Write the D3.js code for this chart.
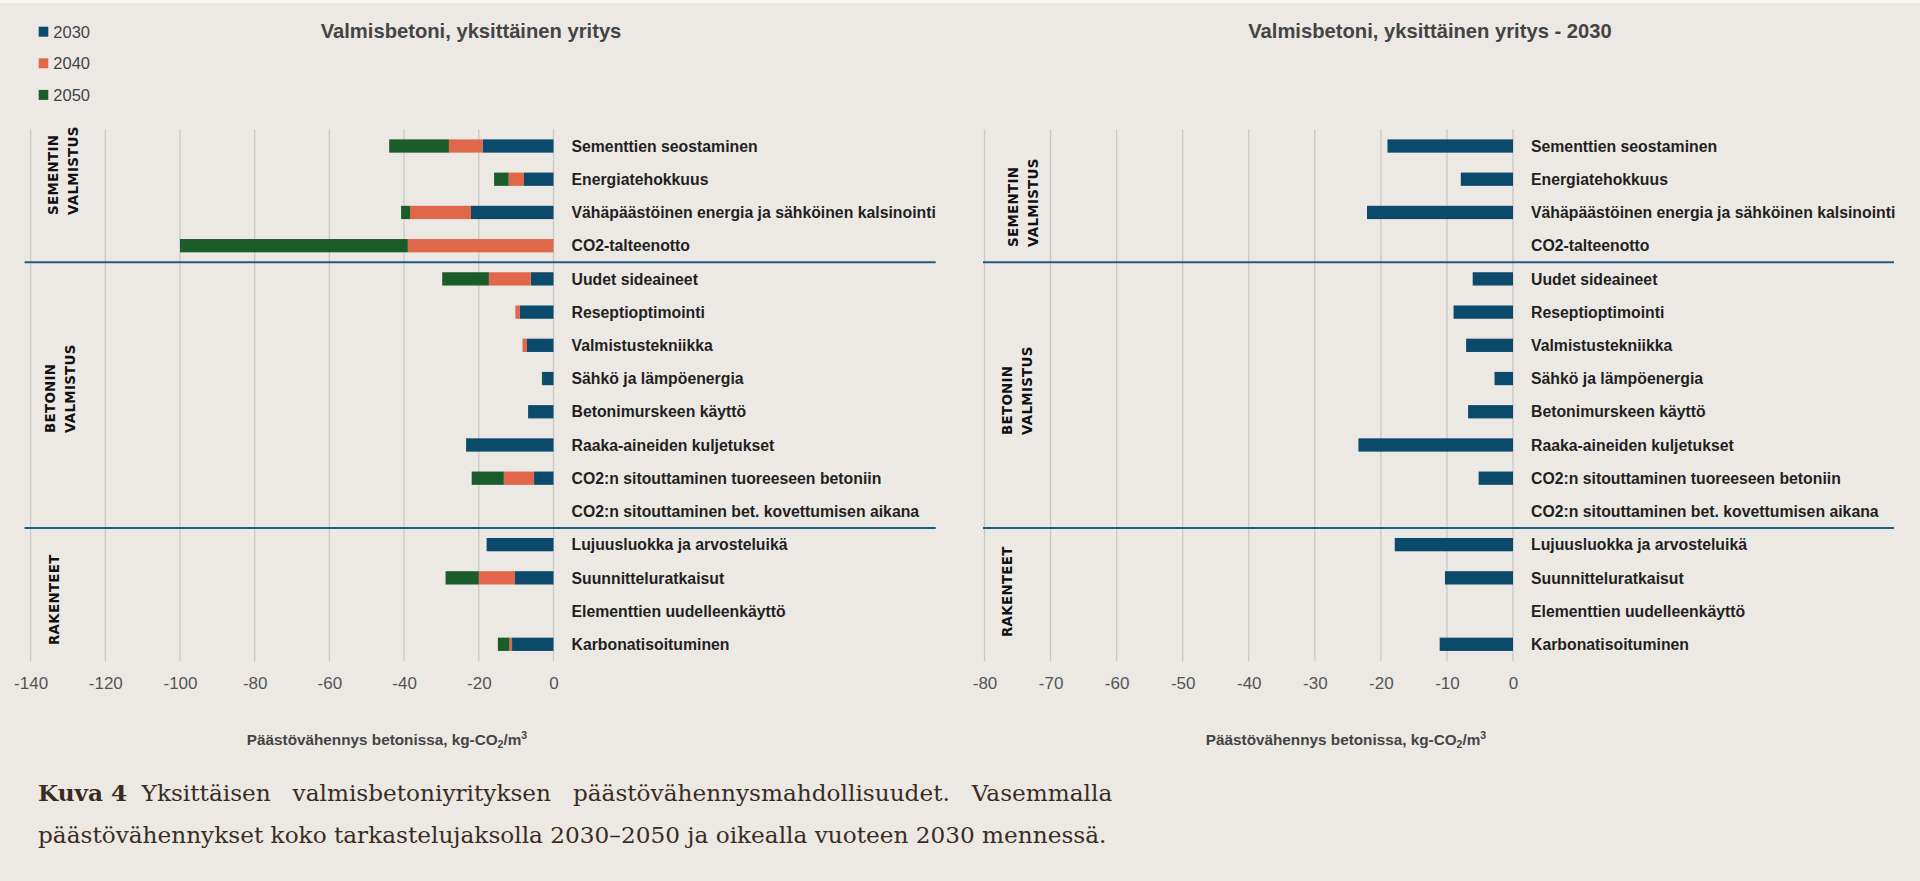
<!DOCTYPE html>
<html><head><meta charset="utf-8">
<script src="https://cdn.jsdelivr.net/npm/d3@7"></script>
<style>
html,body{margin:0;padding:0;background:#ece9e4;}
svg{display:block;}
</style></head>
<body>
<svg id="chart" width="1920" height="881"></svg>
<script>
// ---------- DATA ----------
const categories = [
  "Sementtien seostaminen",
  "Energiatehokkuus",
  "Vähäpäästöinen energia ja sähköinen kalsinointi",
  "CO2-talteenotto",
  "Uudet sideaineet",
  "Reseptioptimointi",
  "Valmistustekniikka",
  "Sähkö ja lämpöenergia",
  "Betonimurskeen käyttö",
  "Raaka-aineiden kuljetukset",
  "CO2:n sitouttaminen tuoreeseen betoniin",
  "CO2:n sitouttaminen bet. kovettumisen aikana",
  "Lujuusluokka ja arvosteluikä",
  "Suunnitteluratkaisut",
  "Elementtien uudelleenkäyttö",
  "Karbonatisoituminen"
];
const seriesKeys = ["2030", "2040", "2050"];
const v2030 = [-19, -7.9, -22.1, 0, -6.1, -9, -7.1, -2.8, -6.8, -23.4, -5.2, 0, -17.9, -10.3, 0, -11.1];
const v2040 = [-9, -4.1, -16.3, -39, -11.2, -1.2, -1.2, 0, 0, 0, -8.1, 0, 0, -9.7, 0, -0.7];
const v2050 = [-16, -3.9, -2.4, -61, -12.5, 0, 0, -0.3, 0, 0, -8.6, 0, 0, -8.9, 0, -3.1];
const groups = [
  { lines: ["SEMENTIN", "VALMISTUS"], first: 0, last: 3 },
  { lines: ["BETONIN", "VALMISTUS"], first: 4, last: 11 },
  { lines: ["RAKENTEET"], first: 12, last: 15 }
];
const ticksLeft = [-140, -120, -100, -80, -60, -40, -20, 0];
const ticksRight = [-80, -70, -60, -50, -40, -30, -20, -10, 0];
const titleLeft = "Valmisbetoni, yksittäinen yritys";
const titleRight = "Valmisbetoni, yksittäinen yritys - 2030";
const captionBold = "Kuva 4";
const captionLine1 = "Yksittäisen valmisbetoniyrityksen päästövähennysmahdollisuudet. Vasemmalla";
const captionLine2 = "päästövähennykset koko tarkastelujaksolla 2030–2050 ja oikealla vuoteen 2030 mennessä.";

// ---------- STYLE ----------
const colors = { "2030": "#0b4a6a", "2040": "#e0674a", "2050": "#1b5c2b" };
const bg = "#ece9e4";
const sans = "'Liberation Sans', Arial, sans-serif";

const svg = d3.select("#chart");
svg.append("rect").attr("width", 1920).attr("height", 881).attr("fill", bg);
svg.append("rect").attr("width", 1920).attr("height", 3).attr("fill", "#f7f6f3");

const rowsAll = categories.map((c, i) => ({ cat: c, "2030": v2030[i], "2040": v2040[i], "2050": v2050[i] }));

const yTop = 129.4, yBot = 660.9;
const y = d3.scaleBand().domain(categories).range([yTop, yBot]).paddingInner(0.6).paddingOuter(0.3);

function panel(opt) {
  const g = svg.append("g");
  const x = d3.scaleLinear().domain(opt.domain).range(opt.range);

  // gridlines
  g.append("g").selectAll("line").data(opt.ticks).join("line")
    .attr("x1", d => x(d)).attr("x2", d => x(d))
    .attr("y1", yTop).attr("y2", yBot)
    .attr("stroke", "#cbc8c3").attr("stroke-width", 1.3);

  // tick labels via axis
  const ax = g.append("g").attr("transform", `translate(0,${yBot + 16})`)
    .call(d3.axisBottom(x).tickValues(opt.ticks).tickSize(0).tickPadding(0).tickFormat(d3.format("d")));
  ax.select(".domain").remove();
  ax.selectAll("text").attr("font-family", sans).attr("font-size", 17).attr("fill", "#555")
    .text(d => d === 0 ? "0" : "-" + Math.abs(d));

  // separators
  [groups[0].last, groups[1].last].forEach(idx => {
    const yy = (y(categories[idx]) + y.bandwidth() + y(categories[idx + 1])) / 2;
    g.append("line").attr("x1", opt.sepX[0]).attr("x2", opt.sepX[1])
      .attr("y1", yy).attr("y2", yy).attr("stroke", "#1f5e80").attr("stroke-width", 2);
  });

  // bars
  const stack = d3.stack().keys(opt.keys).offset(d3.stackOffsetDiverging);
  const stacked = stack(rowsAll);
  g.append("g").selectAll("g").data(stacked).join("g")
    .attr("fill", d => colors[d.key])
    .selectAll("rect").data(d => d).join("rect")
    .attr("x", d => x(Math.min(d[0], d[1])))
    .attr("width", d => Math.abs(x(d[1]) - x(d[0])))
    .attr("y", d => y(d.data.cat))
    .attr("height", y.bandwidth());

  // category labels
  g.append("g").selectAll("text").data(categories).join("text")
    .attr("x", x(0) + 18)
    .attr("y", d => y(d) + y.bandwidth() / 2)
    .attr("dy", "0.36em")
    .attr("font-family", sans).attr("font-weight", "bold").attr("font-size", 15.8)
    .attr("fill", "#231f1e")
    .text(d => d);

  // group labels (rotated)
  groups.forEach((gr, gi) => {
    const pos = opt.groupPos[gi];
    const t = g.append("text")
      .attr("transform", `translate(${pos[0]},${pos[1]}) rotate(-90)`)
      .attr("font-family", "'DejaVu Sans', sans-serif").attr("font-weight", "bold")
      .attr("font-size", 13.4).attr("fill", "#111").attr("letter-spacing", 0.3);
    gr.lines.forEach((ln, li) => {
      t.append("tspan").attr("x", 0).attr("y", li * 20).text(ln);
    });
  });

  // title
  g.append("text").attr("x", opt.titleX).attr("y", 38).attr("text-anchor", "middle")
    .attr("font-family", sans).attr("font-weight", "bold").attr("font-size", 20.2)
    .attr("fill", "#444").text(opt.title);

  // axis title
  const at = g.append("text").attr("x", opt.axisTitleX).attr("y", 745).attr("text-anchor", "middle")
    .attr("font-family", sans).attr("font-weight", "bold").attr("font-size", 15.3).attr("fill", "#444");
  at.append("tspan").text("Päästövähennys betonissa, kg-CO");
  at.append("tspan").attr("font-size", 10.5).attr("dy", 3).text("2");
  at.append("tspan").attr("dy", -3).text("/m");
  at.append("tspan").attr("font-size", 10.5).attr("dy", -6).text("3");
}

panel({
  domain: [-140, 0], range: [30.6, 553.5], ticks: ticksLeft, keys: seriesKeys,
  sepX: [24.5, 935.7], title: titleLeft, titleX: 471, axisTitleX: 387,
  groupPos: [[58, 215], [55, 433], [59, 645]]
});
panel({
  domain: [-80, 0], range: [984.5, 1513], ticks: ticksRight, keys: ["2030"],
  sepX: [983, 1894], title: titleRight, titleX: 1430, axisTitleX: 1346,
  groupPos: [[1018, 247], [1012, 435], [1012, 637]]
});

// legend
const leg = svg.append("g");
seriesKeys.forEach((k, i) => {
  const cy = 31.7 + i * 31.6;
  leg.append("rect").attr("x", 38.7).attr("y", cy - 5).attr("width", 9.6).attr("height", 10).attr("fill", colors[k]);
  leg.append("text").attr("x", 53.3).attr("y", cy).attr("dy", "0.36em")
    .attr("font-family", sans).attr("font-size", 16.5).attr("fill", "#444").text(k);
});

// caption
const capFont = "'DejaVu Serif', serif";
const cap = svg.append("text").attr("x", 38).attr("y", 801)
  .attr("font-family", capFont).attr("font-size", 23.2).attr("fill", "#3a2c22");
cap.append("tspan").attr("font-weight", "bold").text(captionBold);
cap.append("tspan").attr("x", 141.6).attr("word-spacing", 14.5).text(captionLine1);
svg.append("text").attr("x", 38).attr("y", 843)
  .attr("font-family", capFont).attr("font-size", 23.2).attr("fill", "#3a2c22")
  .text(captionLine2);
</script>
</body></html>
